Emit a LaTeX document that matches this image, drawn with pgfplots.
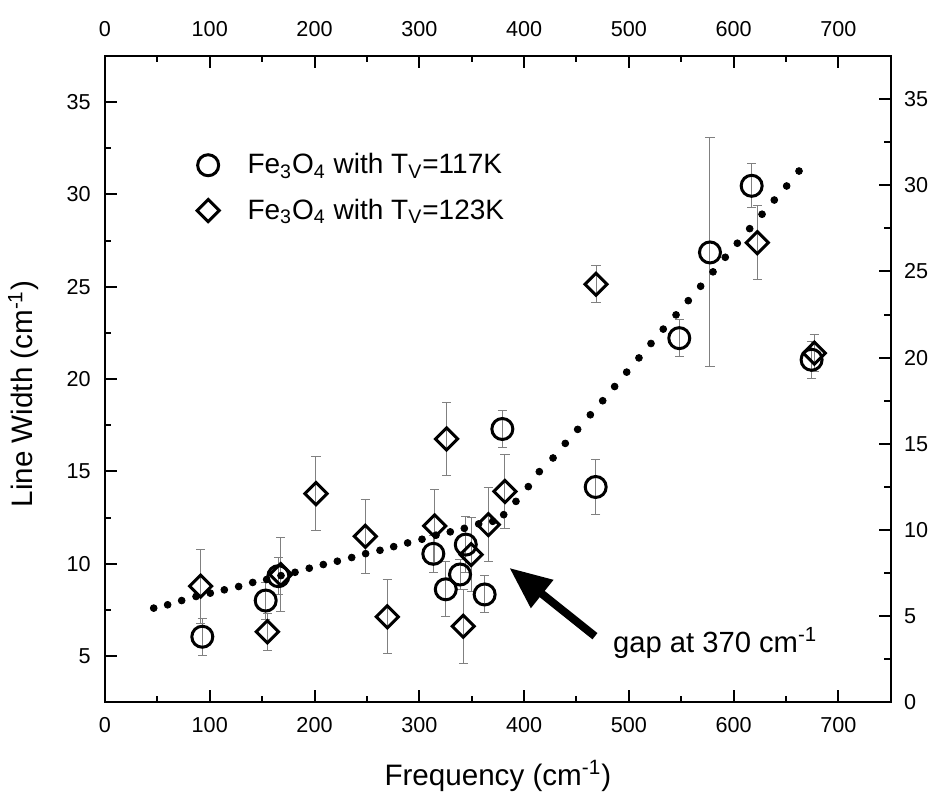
\documentclass[border=0pt]{standalone}
\usepackage{fontspec}
\setmainfont{Liberation Sans}
\usepackage{pgfplots}
\usepackage{pgfplotstable}
\pgfplotsset{compat=1.18}
\usetikzlibrary{arrows.meta}

\pgfplotstableread{
x y e
92.9 6.05 1.0
153.4 8.01 1.0
165.5 9.33 1.0
313.4 10.54 1.0
325.3 8.62 1.5
338.9 9.42 0.8
344.4 11.04 1.5
362.4 8.34 1.0
379.3 17.30 1.0
468.4 14.16 1.47
548.2 22.22 1.0
577.5 26.86 6.2
617.3 30.47 1.2
674.5 21.05 1.0
}\circdata

\pgfplotstableread{
x y e
91.3 8.79 2.0
155.0 6.32 1.0
167.7 9.42 2.0
201.4 13.80 2.0
248.5 11.49 2.0
269.5 7.13 2.0
314.7 12.05 2.0
326.1 16.76 2.0
342.0 6.62 2.0
349.5 10.50 2.0
365.9 12.12 2.0
381.8 13.92 2.0
468.7 25.14 1.0
622.7 27.39 2.0
677.1 21.41 1.0
}\diadata

\pgfplotstableread{
x y
46.5 7.60
59.8 7.78
73.2 8.01
86.9 8.23
100.5 8.41
113.9 8.59
127.6 8.77
141.0 8.99
154.3 9.15
168.0 9.36
181.4 9.54
195.0 9.76
208.4 9.96
221.8 10.14
235.5 10.34
248.8 10.55
262.5 10.73
275.6 10.93
288.9 11.13
302.6 11.33
316.0 11.55
329.6 11.73
343.0 11.92
356.7 12.16
370.1 12.30
380.6 12.66
392.3 13.38
404.1 14.18
414.6 14.99
427.7 15.73
439.4 16.52
451.2 17.28
463.3 18.07
475.1 18.83
486.5 19.60
498.0 20.38
509.7 21.15
521.2 21.93
532.9 22.71
545.1 23.48
556.8 24.25
568.6 25.03
580.4 25.81
592.1 26.60
603.6 27.36
615.4 28.15
627.2 28.93
638.9 29.70
650.7 30.46
662.5 31.27
}\dotdata

\begin{document}
\begin{tikzpicture}
\pgfplotsset{
  common/.style={
    width=392.85pt, height=323.15pt, scale only axis,
    at={(0,0)}, anchor=south west,
    xmin=0, xmax=750,
    xtick={0,100,...,700}, minor x tick num=1,
    minor y tick num=1,
    axis line style={line width=1pt},
    tick style={black, line width=1pt},
    major tick length=6pt, minor tick length=3.2pt,
    tick align=inside,
    /pgf/number format/assume math mode=true,
    ticklabel style={font=\fontsize{10.8}{12}\selectfont},
  }
}
\begin{axis}[common,
  ymin=2.5, ymax=37.5, ytick={5,10,...,35},
  xtick pos=bottom, ytick pos=left,
  xticklabel style={yshift=-4pt},
  yticklabel style={xshift=-3.7pt},
  xlabel={Frequency (cm\textsuperscript{-1})},
  ylabel={Line Width (cm\textsuperscript{-1})},
  label style={font=\fontsize{14.8}{17}\selectfont},
  xlabel style={at={(axis description cs:0.5,-0.128)}, anchor=base},
  ylabel style={at={(axis description cs:-0.0917,0.477)}, anchor=base},
  legend style={draw=none, fill=none, at={(0.101,0.862)}, anchor=north west,
    font=\fontsize{14}{16}\selectfont, row sep=7pt,
    cells={anchor=west}},
  legend image code/.code={\path (-8.5pt,0pt) (17.5pt,0pt); \draw[#1] plot coordinates {(0pt,0pt)};},
]
\addplot[only marks, mark=o, mark size=5.25pt, mark options={line width=1.5pt, black, fill=white},
  error bars/.cd, y dir=both, y explicit,
  error bar style={gray, line width=0.5pt},
  error mark options={rotate=90, gray, mark size=2.3pt, line width=0.5pt}]
  table[x=x, y=y, y error=e] {\circdata};
\addlegendentry{Fe\textsubscript{3}O\textsubscript{4} with T\textsubscript{V}=117K}
\addplot[only marks, mark=square, mark size=3.9pt, mark options={rotate=45, line width=1.5pt, black, fill=white},
  error bars/.cd, y dir=both, y explicit,
  error bar style={gray, line width=0.5pt},
  error mark options={rotate=90, gray, mark size=2.3pt, line width=0.5pt}]
  table[x=x, y=y, y error=e] {\diadata};
\addlegendentry{Fe\textsubscript{3}O\textsubscript{4} with T\textsubscript{V}=123K}
\addplot[only marks, mark=*, mark size=1.7pt, black, forget plot] table[x=x, y=y] {\dotdata};
\draw[line width=4pt, -{Triangle[length=21pt, width=17pt]}] (axis cs:467.7,6.08) -- (axis cs:386.0,9.78);
\node[anchor=base west, inner sep=0pt, font=\fontsize{14.6}{17}\selectfont] at (axis cs:484.6,5.2) {gap at 370 cm\textsuperscript{-1}};
\end{axis}
\begin{axis}[common,
  ymin=0, ymax=37.5, ytick={0,5,...,35},
  xtick pos=top, xticklabel pos=top,
  ytick pos=right, yticklabel pos=right,
  xticklabel style={yshift=6pt},
  yticklabel style={xshift=3.2pt},
]
\end{axis}
\path[use as bounding box] (-52.5pt,-49.85pt) rectangle (416.5pt,351.15pt);
\end{tikzpicture}
\end{document}
